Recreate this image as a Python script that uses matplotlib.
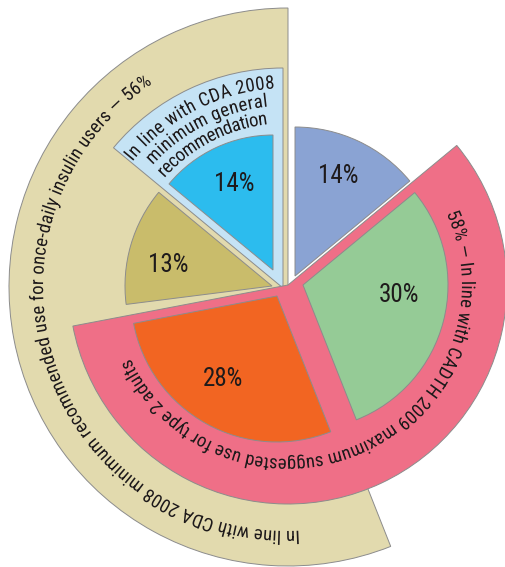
import numpy as np
import matplotlib
matplotlib.use("Agg")
import matplotlib.pyplot as plt
import matplotlib.patheffects as pe
from matplotlib.patches import Wedge
from matplotlib.font_manager import FontProperties, fontManager
from matplotlib.textpath import TextToPath

# ---------------- data ----------------
# slices running clockwise from 12 o'clock
cw_names = ["blue", "green", "orange"]
cw_values = [14, 30, 28]
# slices running counter-clockwise from 12 o'clock
ccw_names = ["cyan", "tan"]
ccw_values = [14, 13]
slice_labels = {"blue": "14%", "green": "30%", "orange": "28%", "cyan": "14%", "tan": "13%"}

# grouping rings
ring_tan_value = 56          # counter-clockwise from 12 o'clock
ring_lightblue_value = 14    # counter-clockwise from 12 o'clock
ring_pink_value = 58         # clockwise, starting after the blue slice

ring_tan_text = "In line with CDA 2008 minimum recommended use for once-daily insulin users \u2014 56%"
ring_pink_text = "58% \u2014 In line with CADTH 2009 maximum suggested use for type 2 adults"
ring_lightblue_lines = ["In line with CDA 2008", "minimum general", "recommendation"]

# ---------------- style / layout ----------------
W, H, DPI = 505, 567, 100
C = np.array([287.0, 280.0])          # main centre (pixel units, y up)
EDGE = "#8c8c8c"
TXT = "#1e1a1b"
colors = {"blue": "#8aa3d3", "green": "#95cb96", "orange": "#f26522",
          "cyan": "#2cbcee", "tan": "#c9bc6b",
          "ring_tan": "#e2daae", "ring_lb": "#c5e3f5", "ring_pink": "#ef6f87"}
# apex offsets (px) and radii
geom = {"ring_tan": ((1, 0), 279), "ring_lb": ((-4, -1), 220), "ring_pink": ((1, 2), 219),
        "cyan": ((-14, 17), 135), "tan": ((-15, 1), 147),
        "green": ((16, 2), 145), "orange": ((-10, -9), 146), "blue": ((8, 11), 149)}
label_pos = {"blue": (111, 2), "green": (96, 9.6), "orange": (97, -5), "cyan": (96, -1.3), "tan": (106, 3.7)}
lb_spans = [(141.0, 93.5, 199), (137.8, 96.0, 181.5), (138.4, 96.7, 164)]

avail = {f.name for f in fontManager.ttflist}
FONT = next((f for f in ["Liberation Sans Narrow", "Roboto Condensed", "Liberation Sans"] if f in avail),
            "DejaVu Sans")
AS_PATH = [pe.Normal()]   # exact sub-pixel glyph placement

fig = plt.figure(figsize=(W / DPI, H / DPI), dpi=DPI)
ax = fig.add_axes([0, 0, 1, 1])
ax.set_xlim(0, W)
ax.set_ylim(0, H)
ax.axis("off")

# ---------------- angles from values ----------------
ang = {}
a = 90.0
for n, v in zip(cw_names, cw_values):
    ang[n] = (a - v * 3.6, a)
    a -= v * 3.6
a = 90.0
for n, v in zip(ccw_names, ccw_values):
    ang[n] = (a, a + v * 3.6)
    a += v * 3.6
ang["ring_tan"] = (90.0, 90.0 + ring_tan_value * 3.6)
ang["ring_lb"] = (90.0, 90.0 + ring_lightblue_value * 3.6)
pink_start = ang["blue"][0]
ang["ring_pink"] = (pink_start - ring_pink_value * 3.6, pink_start)


def apex(name):
    return C + np.array(geom[name][0], dtype=float)


def wedge(name, z):
    c = apex(name)
    t1, t2 = ang[name]
    ax.add_patch(Wedge(tuple(c), geom[name][1], t1, t2, facecolor=colors[name],
                       edgecolor=EDGE, linewidth=0.7, zorder=z))


for n, z in [("ring_tan", 1), ("ring_lb", 2), ("cyan", 3), ("tan", 3),
             ("ring_pink", 4), ("green", 5), ("orange", 5), ("blue", 5)]:
    wedge(n, z)

# ---------------- slice labels ----------------
lab_size = 18
for n, txt in slice_labels.items():
    r, d = label_pos[n]
    t1, t2 = ang[n]
    th = np.radians((t1 + t2) / 2 + d)
    c = apex(n)
    x, y = c[0] + r * np.cos(th), c[1] + r * np.sin(th)
    cap = 0.72 * lab_size * DPI / 72
    ax.text(x, y - cap / 2, txt, ha="center", va="baseline", color=TXT,
            fontproperties=FontProperties(family=FONT, size=lab_size), zorder=10)

# ---------------- curved text ----------------
ttp = TextToPath()


def adv(s, prop):
    a1 = ttp.get_text_width_height_descent("|" + s + "|", prop, ismath=False)[0]
    b1 = ttp.get_text_width_height_descent("||", prop, ismath=False)[0]
    return (a1 - b1) * DPI / 72.0


def arc_text(s, cen, r, size, start, end):
    prop = FontProperties(family=FONT, size=size)
    pref = [adv(s[:i], prop) for i in range(len(s) + 1)]
    widths = [pref[i + 1] - pref[i] for i in range(len(s))]
    total = pref[-1]
    arc = np.radians(start - end) * r
    extra = (arc - total) / (len(s) - 1)
    for i, ch in enumerate(s):
        if ch == " ":
            continue
        left = pref[i] + extra * i
        a_left = start - np.degrees(left / r)
        a_mid = start - np.degrees((left + widths[i] / 2) / r)
        th = np.radians(a_left)
        ax.text(cen[0] + r * np.cos(th), cen[1] + r * np.sin(th), ch,
                rotation=a_mid - 90, rotation_mode="anchor", ha="left", va="baseline",
                fontproperties=prop, color=TXT, zorder=10, path_effects=AS_PATH)


CURVE_SIZE = 13.5
arc_text(ring_tan_text, C, 244, CURVE_SIZE, -87.0, -236.5)
arc_text(ring_pink_text, apex("ring_pink"), 174, CURVE_SIZE, 24.3, -155.0)
for line, (s0, s1, rr) in zip(ring_lightblue_lines, lb_spans):
    arc_text(line, C, rr, CURVE_SIZE, s0, s1)

fig.savefig("out.png", dpi=DPI)
